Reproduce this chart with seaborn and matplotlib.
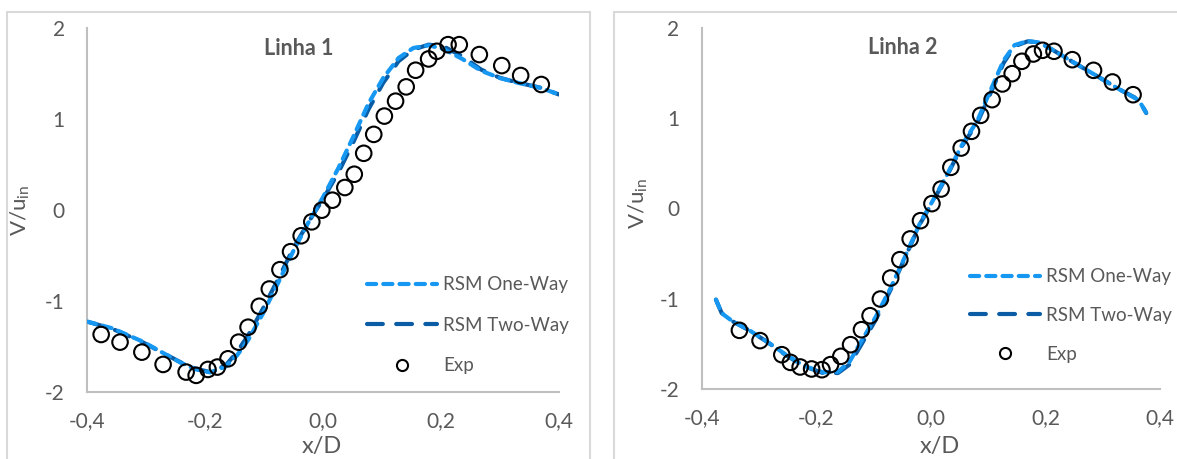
import numpy as np
import pandas as pd
import matplotlib
matplotlib.use("Agg")
import matplotlib.pyplot as plt
from matplotlib.lines import Line2D
from matplotlib.patches import Rectangle
import seaborn as sns

# ---------------- data ----------------
# Linha 1
l1_sim_x = [-0.400, -0.357, -0.306, -0.274, -0.242, -0.216, -0.191, -0.165, -0.146, -0.127,
            -0.102, -0.076, -0.051, -0.025, 0.000, 0.026, 0.051, 0.077, 0.102, 0.128,
            0.153, 0.179, 0.204, 0.236, 0.268, 0.300, 0.332, 0.370, 0.400]
l1_one_way = [-1.226, -1.300, -1.445, -1.560, -1.675, -1.750, -1.785, -1.720, -1.600, -1.430,
              -1.140, -0.800, -0.460, -0.140, 0.140, 0.460, 0.800, 1.170, 1.450, 1.670,
              1.780, 1.810, 1.770, 1.660, 1.530, 1.450, 1.395, 1.340, 1.269]
l1_two_way = [-1.226, -1.306, -1.452, -1.562, -1.671, -1.744, -1.781, -1.708, -1.562, -1.379,
              -1.087, -0.758, -0.429, -0.137, 0.120, 0.411, 0.740, 1.105, 1.397, 1.635,
              1.763, 1.817, 1.799, 1.690, 1.543, 1.452, 1.397, 1.342, 1.269]
l1_exp_x = [-0.376, -0.344, -0.307, -0.271, -0.232, -0.215, -0.195, -0.179, -0.161, -0.143,
            -0.127, -0.108, -0.091, -0.073, -0.055, -0.037, -0.019, -0.002, 0.016, 0.037,
            0.053, 0.069, 0.086, 0.104, 0.123, 0.141, 0.157, 0.179, 0.193, 0.212,
            0.231, 0.265, 0.303, 0.335, 0.370]
l1_exp_y = [-1.368, -1.452, -1.562, -1.697, -1.781, -1.817, -1.752, -1.726, -1.635, -1.452,
            -1.288, -1.058, -0.868, -0.656, -0.458, -0.283, -0.130, -0.002, 0.108, 0.247,
            0.393, 0.623, 0.831, 1.032, 1.196, 1.353, 1.536, 1.660, 1.744, 1.817,
            1.817, 1.708, 1.587, 1.478, 1.379]

# Linha 2
l2_sim_x = [-0.375, -0.365, -0.346, -0.319, -0.287, -0.254, -0.221, -0.188, -0.162, -0.142,
            -0.123, -0.096, -0.070, -0.044, -0.018, 0.002, 0.028, 0.054, 0.081, 0.107,
            0.127, 0.146, 0.169, 0.189, 0.212, 0.251, 0.291, 0.330, 0.363, 0.376]
l2_one_way = [-1.010, -1.160, -1.250, -1.340, -1.470, -1.615, -1.745, -1.815, -1.810, -1.700,
              -1.490, -1.200, -0.880, -0.520, -0.150, 0.070, 0.370, 0.700, 0.970, 1.350,
              1.640, 1.810, 1.855, 1.840, 1.760, 1.612, 1.464, 1.317, 1.200, 1.060]
l2_two_way = [-1.010, -1.158, -1.250, -1.343, -1.472, -1.620, -1.749, -1.823, -1.823, -1.730,
              -1.527, -1.232, -0.899, -0.530, -0.161, 0.061, 0.357, 0.689, 0.947, 1.317,
              1.612, 1.797, 1.852, 1.841, 1.760, 1.612, 1.464, 1.317, 1.206, 1.058]
l2_exp_x = [-0.334, -0.298, -0.260, -0.245, -0.228, -0.208, -0.190, -0.175, -0.157, -0.140,
            -0.121, -0.106, -0.088, -0.070, -0.054, -0.036, -0.018, 0.002, 0.018, 0.035,
            0.053, 0.071, 0.087, 0.107, 0.125, 0.142, 0.159, 0.179, 0.195, 0.215,
            0.247, 0.284, 0.317, 0.353]
l2_exp_y = [-1.350, -1.464, -1.620, -1.705, -1.756, -1.778, -1.786, -1.730, -1.638, -1.509,
            -1.343, -1.188, -1.003, -0.770, -0.567, -0.337, -0.135, 0.054, 0.216, 0.456,
            0.670, 0.855, 1.032, 1.206, 1.380, 1.494, 1.631, 1.712, 1.753, 1.742,
            1.649, 1.531, 1.402, 1.261]

x_ticks = [-0.4, -0.2, 0.0, 0.2, 0.4]
x_tick_labels = ["-0,4", "-0,2", "0,0", "0,2", "0,4"]
y_ticks = [-2, -1, 0, 1, 2]
y_tick_labels = ["-2", "-1", "0", "1", "2"]
series_labels = ["RSM One-Way", "RSM Two-Way", "Exp"]

# ---------------- style ----------------
sns.set_style("white")
plt.rcParams["font.family"] = ["Lato", "DejaVu Sans"]
plt.rcParams["mathtext.fontset"] = "custom"
plt.rcParams["mathtext.rm"] = "Lato"
plt.rcParams["mathtext.it"] = "Lato"

GREY_TXT = "#595959"
GREY_AX = "#BFBFBF"
C_ONE = "#1597F2"
C_TWO = "#0A5CA5"
ONE_DASH = (0, (2.2, 1.7))
TWO_DASH = (0, (3.8, 3.2))
LW = 3.0

fig = plt.figure(figsize=(11.77, 4.59), dpi=100)

# chart area frames
fig.patches.append(Rectangle((7 / 1177, -0.1), (590 - 7) / 1177, 1.1 - 12 / 459,
                             transform=fig.transFigure, fill=False,
                             edgecolor="#D9D9D9", lw=1.5))
fig.patches.append(Rectangle((614 / 1177, -0.1), 0.6, 1.1 - 12 / 459,
                             transform=fig.transFigure, fill=False,
                             edgecolor="#D9D9D9", lw=1.5))

ax1 = fig.add_axes([87 / 1177, 67 / 459, (559 - 87) / 1177, 364 / 459])
ax2 = fig.add_axes([701.6 / 1177, 70 / 459, (1160 - 701.6) / 1177, 361 / 459])


def draw_panel(ax, sim_x, one_way, two_way, exp_x, exp_y, title, title_x,
               leg_anchor, leg_spacing, ylab_x, ylab_y, xlab_x, xlab_y):
    sim = pd.DataFrame({"x": sim_x, "one": one_way, "two": two_way})
    exp = pd.DataFrame({"x": exp_x, "y": exp_y})

    sns.lineplot(data=sim, x="x", y="one", ax=ax, color=C_ONE, lw=LW,
                 linestyle=ONE_DASH, dash_capstyle="round", sort=False,
                 estimator=None, zorder=3)
    sns.lineplot(data=sim, x="x", y="two", ax=ax, color=C_TWO, lw=LW,
                 linestyle=TWO_DASH, dash_capstyle="round", sort=False,
                 estimator=None, zorder=2)
    sns.scatterplot(data=exp, x="x", y="y", ax=ax, marker="o", s=125,
                    facecolor="none", edgecolor="black", linewidth=1.5,
                    zorder=4)

    ax.set_xlim(-0.4, 0.4)
    ax.set_ylim(-2, 2)
    ax.set_xticks(x_ticks)
    ax.set_xticklabels(x_tick_labels)
    ax.set_yticks(y_ticks)
    ax.set_yticklabels(y_tick_labels)
    ax.tick_params(axis="x", length=0, pad=14, labelsize=15, labelcolor=GREY_TXT)
    ax.tick_params(axis="y", length=0, pad=16, labelsize=15, labelcolor=GREY_TXT)
    for side in ("top", "right"):
        ax.spines[side].set_visible(False)
    for side in ("left", "bottom"):
        ax.spines[side].set_color(GREY_AX)
        ax.spines[side].set_linewidth(1.5)
    ax.grid(False)

    ax.set_xlabel("x/D", fontsize=17, color=GREY_TXT)
    ax.set_ylabel(r"V/u$_{\mathregular{in}}$", fontsize=16, color=GREY_TXT)
    ax.xaxis.set_label_coords(xlab_x, xlab_y)
    ax.yaxis.set_label_coords(ylab_x, ylab_y)

    ax.text(title_x, 0.945, title, transform=ax.transAxes, ha="center",
            va="center", fontsize=15.5, fontweight="bold", color=GREY_TXT)

    handles = [
        Line2D([], [], color=C_ONE, lw=LW, linestyle=ONE_DASH, dash_capstyle="round"),
        Line2D([], [], color=C_TWO, lw=LW, linestyle=TWO_DASH, dash_capstyle="round"),
        Line2D([], [], ls="none", marker="o", ms=8, mfc="none", mec="black", mew=1.5),
    ]
    ax.legend(handles, series_labels, loc="upper left", bbox_to_anchor=leg_anchor,
              frameon=False, fontsize=13.5, labelcolor=GREY_TXT, borderpad=0,
              borderaxespad=0, handlelength=3.75, handletextpad=0.3,
              labelspacing=leg_spacing)


draw_panel(ax1, l1_sim_x, l1_one_way, l1_two_way, l1_exp_x, l1_exp_y,
           "Linha 1", 0.449, (0.593, 0.318), 1.26, -0.117, 0.5, 0.498, -0.122)
draw_panel(ax2, l2_sim_x, l2_one_way, l2_two_way, l2_exp_x, l2_exp_y,
           "Linha 2", 0.439, (0.5855, 0.334), 1.15, -0.113, 0.515, 0.52, -0.131)

fig.savefig("out.png", dpi=100)
